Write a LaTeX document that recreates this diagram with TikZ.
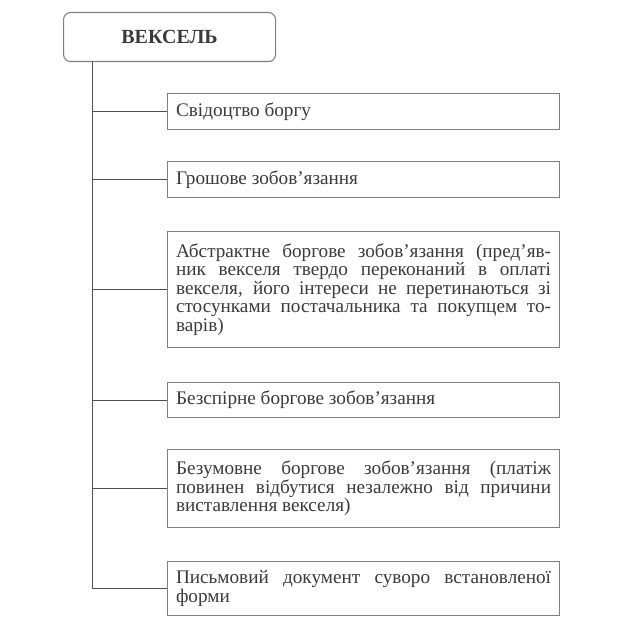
\documentclass[tikz,border=0pt]{standalone}
\usepackage{fontspec}
\setmainfont{Liberation Serif}
\usetikzlibrary{positioning}
\definecolor{Ink}{HTML}{3A3A3A}
\definecolor{Frame}{HTML}{808080}
\definecolor{Wire}{HTML}{505050}
\newcommand\itemfont{\fontsize{19.2}{18.5}\selectfont\lineskiplimit=-6pt\relax}

\begin{document}
\begin{tikzpicture}[x=1pt,y=-1pt,
    head/.style={draw=Frame,line width=1.1pt,rounded corners=7pt,minimum width=212pt,minimum height=49pt,
      font=\fontsize{20}{24}\selectfont\bfseries,text=Ink},
    item/.style={draw=Frame,line width=1.1pt,anchor=north west,text width=375pt,inner xsep=8.5pt,inner ysep=4pt,
      align=justify,font=\itemfont,text=Ink},
    wire/.style={draw=Wire,line width=0.8pt}]
  \useasboundingbox (0,0) rectangle (622,628);
  \node[head,anchor=north west] (veksel) at (63,12) {ВЕКСЕЛЬ};
  \node[item,minimum height=36pt] (borg) at (167,93) {Свідоцтво боргу};
  \node[item,minimum height=36pt] (grosh) at (167,161) {Грошове зобов’язання};
  \node[item,minimum height=116pt] (abstr) at (167,231) {Абстрактне боргове зобов’язання (пред’яв-\linebreak
    ник векселя твердо переконаний в оплаті\linebreak
    векселя, його інтереси не перетинаються зі\linebreak
    стосунками постачальника та покупцем то-\linebreak
    варів)};
  \node[item,minimum height=35pt] (bezsp) at (167,382) {Безспірне боргове зобов’язання};
  \node[item,minimum height=78pt] (bezum) at (167,449) {Безумовне боргове зобов’язання (платіж\linebreak
    повинен відбутися незалежно від причини\linebreak
    виставлення векселя)};
  \node[item,minimum height=54pt] (pysm) at (167,561) {Письмовий документ суворо встановленої\linebreak
    форми};
  % trunk and branches
  \coordinate (trunk) at (92,61);
  \draw[wire] (trunk) |- (pysm.west);
  \foreach \b in {borg,grosh,abstr,bezsp,bezum}
    \draw[wire] (trunk |- \b.west) -- (\b.west);
\end{tikzpicture}
\end{document}
